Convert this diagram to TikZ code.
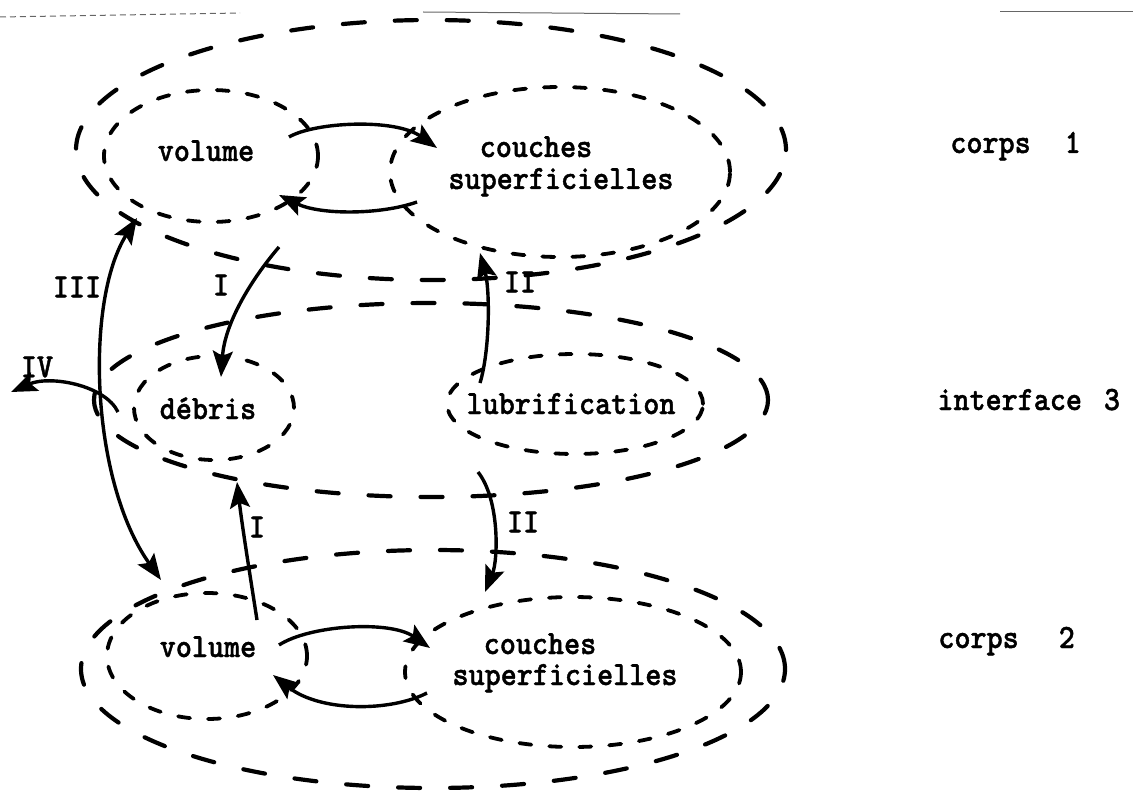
\documentclass[tikz,border=0pt]{standalone}
\usepackage{fontspec}
\setmonofont{lmmonolt10-bold}[Extension=.otf, FakeStretch=0.9, FakeBold=1.2]
\usetikzlibrary{shapes.geometric,arrows.meta,calc}
\begin{document}
\begin{tikzpicture}[x=0.5pt,y=-0.5pt,
  outerell/.style={draw, ellipse, line width=2.1pt, dash pattern=on 11pt off 15pt, line cap=round, inner sep=0pt, outer sep=0pt},
  innerell/.style={draw, ellipse, line width=1.9pt, dash pattern=on 6pt off 9pt, line cap=round, inner sep=0pt, outer sep=0pt},
  txt/.style={font=\fontsize{17}{20}\selectfont\ttfamily, inner sep=0pt, anchor=base},
  lbl/.style={font=\fontsize{17}{20}\selectfont\ttfamily, inner sep=0pt},
  tip/.tip={Stealth[length=13pt,width=10pt,inset=2.5pt]},
  arr/.style={line width=1.7pt, -tip},
  darr/.style={line width=1.7pt, tip-tip},
  scan/.style={line width=0.5pt, black!60}
]
\path[use as bounding box] (0,0) rectangle (1133,791);

% scan artefact lines at the top
\draw[scan, dash pattern=on 3pt off 2pt] (0,17) -- (240,13);
\draw[scan] (423,12) -- (680,14);
\draw[scan] (1000,12) -- (1133,12);

% ellipses
\node[outerell, minimum width=355pt, minimum height=130pt] (c1) at (431,150) {};
\node[innerell, minimum width=107pt, minimum height=66pt] (vol1) at (211,156) {};
\node[innerell, minimum width=170pt, minimum height=85pt] (cou1) at (560,172) {};
\node[outerell, minimum width=337pt, minimum height=97pt] (itf) at (431,400) {};
\node[innerell, minimum width=80pt, minimum height=52pt] (deb) at (214,408) {};
\node[innerell, minimum width=128pt, minimum height=50pt] (lub) at (575,404) {};
\node[outerell, minimum width=352pt, minimum height=119pt] (c2) at (433,669) {};
\node[innerell, minimum width=100pt, minimum height=63pt] (vol2) at (207,656) {};
\node[innerell, minimum width=168pt, minimum height=75pt] (cou2) at (573,672) {};

% texts
\node[txt] (tvol1) at (206,161) {volume};
\node[txt] (tcou1a) at (536,157) {couches};
\node[txt] (tcou1b) at (561,189) {superficielles};
\node[txt] (tdeb) at (208,419) {débris};
\node[txt] (tlub) at (571,414) {lubrification};
\node[txt] (tvol2) at (208,657) {volume};
\node[txt] (tcou2a) at (540,654) {couches};
\node[txt] (tcou2b) at (565,685) {superficielles};
\node[txt, anchor=base west] (corps1) at (950,153) {corps\hspace{17pt}1};
\node[txt, anchor=base west] (inter3) at (937,410) {interface\hspace{11pt}3};
\node[txt, anchor=base west] (corps2) at (938,648) {corps\hspace{20pt}2};

% arrow labels
\node[lbl] (lIII) at (77,287) {III};
\node[lbl] (lI1) at (221,285) {I};
\node[lbl] (lII1) at (520,282) {II};
\node[lbl] (lIV) at (37,367) {IV};
\node[lbl] (lI2) at (257,527) {I};
\node[lbl] (lII2) at (523,522) {II};

% arrows
\draw[arr] ($(vol1)+(78,-19)$) .. controls (315,122) and (395,118) .. ($(cou1)+(-123,-24)$);
\draw[arr] ($(cou1)+(-143,30)$) .. controls (380,215) and (320,215) .. ($(vol1)+(68,39)$);
\draw[arr] ($(vol1)+(68,91)$) .. controls (255,275) and (225,320) .. ($(deb)+(7,-31)$);
\draw[darr] ($(vol1)+(-74,62)$) .. controls (85,300) and (90,480) .. ($(vol2)+(-46,-76)$);
\coordinate (ivend) at (11,392);
\draw[arr] ($(deb)+(-96,4)$) .. controls (105,385) and (50,375) .. (ivend);
\draw[arr] ($(vol2)+(50,-36)$) .. controls (250,575) and (242,525) .. ($(deb)+(23,74)$);
\draw[arr] ($(lub)+(-95,-21)$) .. controls (490,350) and (490,290) .. ($(cou1)+(-80,81)$);
\draw[arr] ($(lub)+(-97,68)$) .. controls (500,500) and (498,560) .. ($(cou2)+(-88,-80)$);
\draw[arr] ($(vol2)+(72,-11)$) .. controls (310,625) and (390,620) .. ($(cou2)+(-143,-24)$);
\draw[arr] ($(cou2)+(-146,21)$) .. controls (390,712) and (320,712) .. ($(vol2)+(66,19)$);
\end{tikzpicture}
\end{document}
